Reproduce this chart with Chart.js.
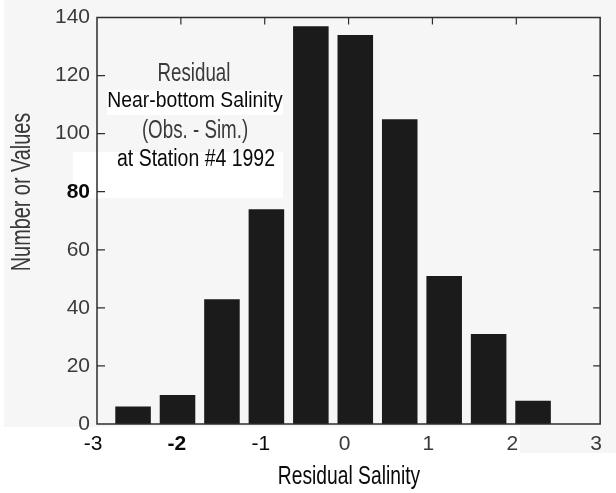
<!DOCTYPE html>
<html>
<head>
<meta charset="utf-8">
<script src="https://cdn.jsdelivr.net/npm/chart.js@4/dist/chart.umd.min.js"></script>
<style>
  html, body { margin: 0; padding: 0; background: #ffffff; }
  #wrap { position: relative; width: 616px; height: 493px; }
</style>
</head>
<body>
<div id="wrap"><canvas id="c"></canvas></div>
<script>
// ---- data ----
const binCenters = [-2.57, -2.04, -1.51, -0.98, -0.45, 0.08, 0.61, 1.14, 1.67, 2.20];
const counts     = [6, 10, 43, 74, 137, 134, 105, 51, 31, 8];
const xTickValues = [-3, -2, -1, 0, 1, 2, 3];
const xTickLabels = ['-3', '-2', '-1', '0', '1', '2', '3'];
const yTickValues = [0, 20, 40, 60, 80, 100, 120, 140];
const yTickLabels = ['0', '20', '40', '60', '80', '100', '120', '140'];
const annotationLines = ['Residual', 'Near-bottom Salinity', '(Obs. - Sim.)', 'at Station #4 1992'];
const yTitle = 'Number or Values';
const xTitle = 'Residual Salinity';

const FONT = '"Liberation Sans", Arial, Helvetica, sans-serif';
const GRAY_TEXT = '#3a3a3a';
const BLACK_TEXT = '#0a0a0a';
const SCAN_BG = '#f6f6f6';
const BAR = '#1b1b1b';
const AXIS = '#2e2e2e';

// draw text horizontally condensed (narrow Helvetica look)
function narrowText(ctx, txt, x, y, size, sx, color, rot) {
  ctx.save();
  ctx.translate(x, y);
  if (rot) ctx.rotate(rot);
  ctx.scale(sx, 1);
  ctx.font = size + 'px ' + FONT;
  ctx.fillStyle = color;
  ctx.textAlign = 'center';
  ctx.textBaseline = 'middle';
  ctx.fillText(txt, 0, 0);
  ctx.restore();
}

const decor = {
  id: 'decor',
  beforeDraw(chart) {
    const ctx = chart.ctx;
    ctx.save();
    ctx.fillStyle = '#ffffff';
    ctx.fillRect(0, 0, chart.width, chart.height);
    ctx.fillStyle = SCAN_BG;
    ctx.fillRect(4, 0, chart.width - 4, 427);
    ctx.fillRect(520, 427, 96, 26);
    ctx.fillStyle = '#ffffff';
    ctx.fillRect(107, 90, 176, 25);
    ctx.fillRect(73, 152, 210, 46);
    ctx.restore();
  },
  afterDraw(chart) {
    const ctx = chart.ctx;
    const a = chart.chartArea;
    const xs = chart.scales.x, ys = chart.scales.y;
    ctx.save();
    // frame
    ctx.strokeStyle = AXIS;
    ctx.lineWidth = 1.5;
    ctx.beginPath();
    ctx.moveTo(a.left, a.top); ctx.lineTo(a.right, a.top);
    ctx.lineTo(a.right, a.bottom); ctx.lineTo(a.left, a.bottom);
    ctx.closePath();
    ctx.stroke();
    // inward ticks
    ctx.lineWidth = 1.2;
    ctx.beginPath();
    ys.ticks.forEach(t => {
      if (t.value <= 0 || t.value >= 140) return;
      const y = ys.getPixelForValue(t.value);
      ctx.moveTo(a.left, y); ctx.lineTo(a.left + 8, y);
      ctx.moveTo(a.right, y); ctx.lineTo(a.right - 7, y);
    });
    xs.ticks.forEach(t => {
      if (t.value <= -3 || t.value >= 3) return;
      const x = xs.getPixelForValue(t.value);
      ctx.moveTo(x, a.top); ctx.lineTo(x, a.top + 7);
    });
    ctx.stroke();
    ctx.restore();

    // annotation text
    narrowText(ctx, annotationLines[0], 194, 74, 26, 0.72, GRAY_TEXT);
    narrowText(ctx, annotationLines[1], 195, 101, 22, 0.88, BLACK_TEXT);
    narrowText(ctx, annotationLines[2], 195, 131, 25, 0.75, GRAY_TEXT);
    narrowText(ctx, annotationLines[3], 196, 160, 23, 0.846, BLACK_TEXT);

    // axis titles
    narrowText(ctx, yTitle, 23, 192, 27, 0.735, GRAY_TEXT, -Math.PI / 2);
    narrowText(ctx, xTitle, 349, 477, 25, 0.77, BLACK_TEXT);
  }
};

new Chart(document.getElementById('c'), {
  type: 'bar',
  data: {
    datasets: [{
      data: binCenters.map((x, i) => ({ x: x, y: counts[i] })),
      backgroundColor: BAR,
      borderWidth: 0,
      barPercentage: 0.8,
      categoryPercentage: 1.0
    }]
  },
  options: {
    responsive: true,
    maintainAspectRatio: false,
    animation: false,
    layout: { padding: { top: 13, right: 2, left: 0, bottom: 0 } },
    plugins: { legend: { display: false }, tooltip: { enabled: false } },
    scales: {
      x: {
        type: 'linear',
        min: -3, max: 3,
        offset: false,
        grid: { display: false, drawTicks: false },
        border: { display: false },
        afterFit(s) { s.height = 69; },
        afterBuildTicks(s) { s.ticks = xTickValues.map(v => ({ value: v })); },
        ticks: {
          autoSkip: false,
          maxRotation: 0,
          padding: 10,
          labelOffset: -4,
          callback: (v) => { const i = xTickValues.indexOf(v); return i >= 0 ? xTickLabels[i] : ''; },
          color: (c) => (c.tick && c.tick.value < 0) ? BLACK_TEXT : GRAY_TEXT,
          font: (c) => ({ family: FONT, size: 21, lineHeight: 1, weight: (c.tick && c.tick.value === -2) ? 'bold' : 'normal' })
        }
      },
      y: {
        min: 0, max: 140,
        grid: { display: false, drawTicks: false },
        border: { display: false },
        afterFit(s) { s.width = 97; },
        afterBuildTicks(s) { s.ticks = yTickValues.map(v => ({ value: v })); },
        ticks: {
          padding: 7,
          callback: (v) => { const i = yTickValues.indexOf(v); return i >= 0 ? yTickLabels[i] : ''; },
          color: (c) => (c.tick && c.tick.value === 80) ? BLACK_TEXT : GRAY_TEXT,
          font: (c) => ({ family: FONT, size: 21, lineHeight: 1, weight: (c.tick && c.tick.value === 80) ? 'bold' : 'normal' })
        }
      }
    }
  },
  plugins: [decor]
});
</script>
</body>
</html>
